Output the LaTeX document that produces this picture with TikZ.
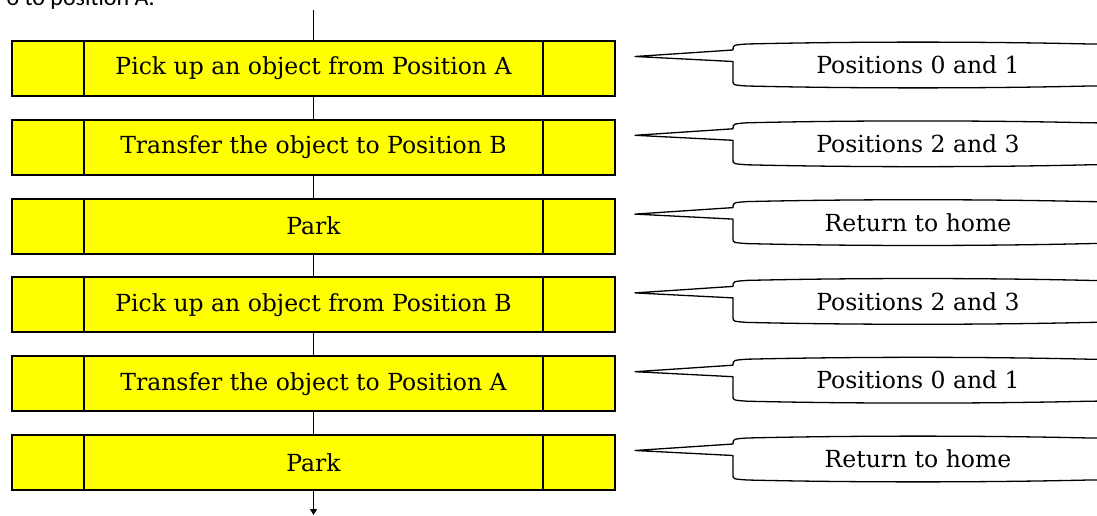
\documentclass[tikz,border=0pt]{standalone}
\usepackage{fontspec}
\setmainfont{DejaVu Serif}
\newfontfamily\notefont{Carlito}
\usepackage{tikz}
\usetikzlibrary{arrows.meta, positioning}
\definecolor{stepyellow}{RGB}{255,255,0}
\tikzset{
  stepbox/.style={draw=black,fill=stepyellow,line width=2pt,minimum width=603pt,
    minimum height=55pt,inner sep=0pt,outer sep=0pt,font=\fontsize{23.5}{28}\selectfont},
  bubble/.style={minimum width=370pt,minimum height=42pt,inner sep=0pt,outer sep=0pt,
    font=\fontsize{23.5}{28}\selectfont},
  flow/.style={draw=black,line width=1pt}
}
% side cells of a step box
\newcommand{\stepcells}[1]{%
  \draw[line width=1.2pt] ([xshift=72pt]#1.north west) -- ([xshift=72pt]#1.south west);
  \draw[line width=1.2pt] ([xshift=-72pt]#1.north east) -- ([xshift=-72pt]#1.south east);}
% speech bubble round a note
\newcommand{\bubbleoutline}[1]{%
  \draw[line width=1.3pt,line join=round]
    ([yshift=-6pt]#1.north west)
    .. controls ([yshift=-1pt]#1.north west) .. ([xshift=14pt]#1.north west)
    .. controls ([xshift=120pt,yshift=2.5pt]#1.north west) and ([xshift=-120pt,yshift=2.5pt]#1.north east) .. ([xshift=-14pt]#1.north east)
    .. controls (#1.north east) .. ([yshift=-6pt]#1.north east)
    -- ([yshift=6pt]#1.south east)
    .. controls (#1.south east) .. ([xshift=-14pt]#1.south east)
    .. controls ([xshift=-120pt,yshift=-2.5pt]#1.south east) and ([xshift=120pt,yshift=-2.5pt]#1.south west) .. ([xshift=14pt]#1.south west)
    .. controls ([yshift=1pt]#1.south west) .. ([yshift=5pt]#1.south west)
    -- ([yshift=-17.5pt]#1.north west)
    -- ([xshift=-98pt,yshift=-12.5pt]#1.north west)
    -- cycle;}

\begin{document}
\begin{tikzpicture}[x=1pt,y=-1pt]
    \useasboundingbox (0,0) rectangle (1097,516);
    \clip (0,0) rectangle (1097,516);
    \node[anchor=base east,inner sep=0pt,font=\notefont\fontsize{24}{28}\selectfont] (note) at (155,5.5) {o to position A.};

    \node[stepbox] (pickA) at (313.5,68.5) {Pick up an object from Position A};
    \node[stepbox] (moveB) at (313.5,147.3) {Transfer the object to Position B};
    \node[stepbox] (parkA) at (313.5,226.1) {Park};
    \node[stepbox] (pickB) at (313.5,304.9) {Pick up an object from Position B};
    \node[stepbox] (moveA) at (313.5,383.7) {Transfer the object to Position A};
    \node[stepbox] (parkB) at (313.5,462.5) {Park};
    \stepcells{pickA} \stepcells{moveB} \stepcells{parkA}
    \stepcells{pickB} \stepcells{moveA} \stepcells{parkB}

    \node[bubble] (posA1) at (918,65) {Positions 0 and 1};
    \node[bubble] (posB1) at (918,143.8) {Positions 2 and 3};
    \node[bubble] (home1) at (918,222.6) {Return to home};
    \node[bubble] (posB2) at (918,301.4) {Positions 2 and 3};
    \node[bubble] (posA2) at (918,380.2) {Positions 0 and 1};
    \node[bubble] (home2) at (918,459) {Return to home};
    \bubbleoutline{posA1} \bubbleoutline{posB1} \bubbleoutline{home1}
    \bubbleoutline{posB2} \bubbleoutline{posA2} \bubbleoutline{home2}

    \coordinate (start) at (313.5,10);
    \coordinate (finish) at (313.5,515);
    \draw[flow] (start) -- (pickA.north);
    \draw[flow] (pickA.south) -- (moveB.north);
    \draw[flow] (moveB.south) -- (parkA.north);
    \draw[flow] (parkA.south) -- (pickB.north);
    \draw[flow] (pickB.south) -- (moveA.north);
    \draw[flow] (moveA.south) -- (parkB.north);
    \draw[flow,-{Triangle[length=6pt,width=7pt]}] (parkB.south) -- (finish);
\end{tikzpicture}
\end{document}
